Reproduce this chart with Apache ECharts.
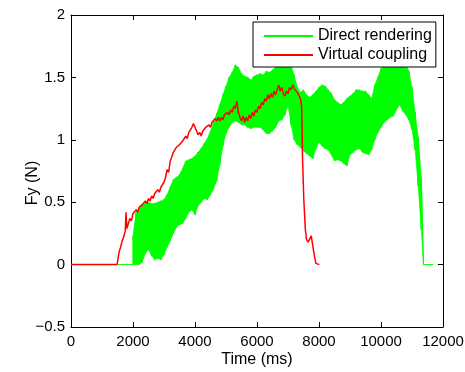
<!DOCTYPE html>
<html>
<head>
<meta charset="utf-8">
<script src="https://cdn.jsdelivr.net/npm/echarts@6/dist/echarts.min.js"></script>
<style>
  html, body { margin: 0; padding: 0; background: #fff; }
  #chart { width: 465px; height: 372px; }
</style>
</head>
<body>
<div id="chart"></div>
<script>
// Axis ticks
const xTicks = [0, 2000, 4000, 6000, 8000, 10000, 12000];
const yTicks = [-0.5, 0, 0.5, 1, 1.5, 2];

// Direct rendering: the force oscillates quickly, so it is stored as
// the low and high extremes of each 100 ms window.
const greenTime = [2000, 2100, 2200, 2300, 2400, 2500, 2600, 2700, 2800, 2900,
  3000, 3100, 3200, 3300, 3400, 3500, 3600, 3700, 3800, 3900,
  4000, 4100, 4200, 4300, 4400, 4500, 4600, 4700, 4800, 4900,
  5000, 5100, 5200, 5300, 5400, 5500, 5600, 5700, 5800, 5900,
  6000, 6100, 6200, 6300, 6400, 6500, 6600, 6700, 6800, 6900,
  7000, 7100, 7200, 7300, 7400, 7500, 7600, 7700, 7800, 7900,
  8000, 8100, 8200, 8300, 8400, 8500, 8600, 8700, 8800, 8900,
  9000, 9100, 9200, 9300, 9400, 9500, 9600, 9700, 9800, 9900,
  10000, 10100, 10200, 10300, 10400, 10500, 10600, 10700, 10800, 10900,
  11000, 11100, 11200, 11300, 11370];
const greenHigh = [0.23, 0.42, 0.45, 0.48, 0.49, 0.50, 0.49, 0.49, 0.50, 0.51,
  0.52, 0.56, 0.62, 0.68, 0.70, 0.72, 0.77, 0.83, 0.84, 0.85,
  0.87, 0.90, 0.93, 0.97, 1.01, 1.07, 1.14, 1.21, 1.28, 1.36,
  1.43, 1.50, 1.54, 1.60, 1.58, 1.53, 1.51, 1.50, 1.48, 1.51,
  1.52, 1.53, 1.52, 1.55, 1.54, 1.56, 1.58, 1.59, 1.61, 1.62,
  1.61, 1.60, 1.52, 1.42, 1.38, 1.40, 1.36, 1.34, 1.36, 1.39,
  1.42, 1.44, 1.43, 1.40, 1.37, 1.32, 1.30, 1.28, 1.30, 1.33,
  1.35, 1.37, 1.40, 1.40, 1.39, 1.39, 1.36, 1.33, 1.44, 1.50,
  1.57, 1.60, 1.62, 1.63, 1.64, 1.64, 1.64, 1.63, 1.61, 1.55,
  1.42, 1.22, 1.02, 0.70, 0];
const greenLow = [0, 0, 0, 0.02, 0.09, 0.12, 0.07, 0.04, 0.05, 0.04,
  0.08, 0.14, 0.19, 0.25, 0.30, 0.32, 0.33, 0.37, 0.42, 0.44,
  0.40, 0.47, 0.50, 0.53, 0.52, 0.56, 0.61, 0.67, 0.80, 0.95,
  1.05, 1.10, 1.14, 1.15, 1.14, 1.12, 1.12, 1.10, 1.09, 1.10,
  1.10, 1.10, 1.08, 1.05, 1.05, 1.07, 1.10, 1.15, 1.16, 1.20,
  1.28, 1.12, 1.00, 0.96, 0.94, 0.91, 0.89, 0.87, 0.85, 0.93,
  0.98, 0.95, 0.93, 0.92, 0.88, 0.83, 0.84, 0.83, 0.81, 0.79,
  0.88, 0.90, 0.92, 0.93, 0.90, 0.89, 0.88, 0.92, 1.00, 1.06,
  1.10, 1.14, 1.16, 1.18, 1.19, 1.24, 1.28, 1.23, 1.20, 1.16,
  1.08, 0.92, 0.63, 0.28, 0];
// Resting samples before and after contact
const greenRestStart = [[0, 0], [2000, 0]];
const greenRestEnd = [[11370, 0], [11690, 0]];

// Virtual coupling
const redTime = [0, 1480, 1500, 1550, 1600, 1650, 1700, 1750, 1775, 1800, 1850, 1900, 1950,
  2000, 2050, 2100, 2150, 2200, 2250, 2300, 2350, 2400, 2450, 2500, 2550, 2600, 2650,
  2700, 2750, 2800, 2850, 2900, 2950, 3000, 3050, 3100, 3150, 3200, 3250, 3300, 3350,
  3400, 3450, 3500, 3550, 3600, 3650, 3700, 3750, 3800, 3850, 3900, 3950, 4000, 4050,
  4100, 4150, 4200, 4250, 4300, 4350, 4400, 4450, 4500, 4550, 4600, 4650, 4700, 4750,
  4800, 4850, 4900, 4950, 5000, 5050, 5100, 5150, 5200, 5250, 5300, 5350, 5400, 5450,
  5500, 5550, 5600, 5650, 5700, 5750, 5800, 5850, 5900, 5950, 6000, 6050, 6100, 6150,
  6200, 6250, 6300, 6350, 6400, 6450, 6500, 6550, 6600, 6650, 6700, 6750, 6800, 6850,
  6900, 6950, 7000, 7050, 7100, 7150, 7200, 7250, 7300, 7350, 7400, 7440, 7470, 7510,
  7560, 7600, 7650, 7700, 7750, 7800, 7850, 7900, 7950, 8010];
const redForce = [0, 0, 0.02, 0.10, 0.14, 0.19, 0.22, 0.27, 0.42, 0.29, 0.33, 0.37, 0.35,
  0.41, 0.40, 0.44, 0.42, 0.46, 0.45, 0.48, 0.47, 0.51, 0.49, 0.53, 0.51, 0.55, 0.53,
  0.57, 0.56, 0.60, 0.58, 0.62, 0.61, 0.66, 0.70, 0.76, 0.74, 0.83, 0.86, 0.90, 0.89,
  0.94, 0.93, 0.96, 0.95, 0.99, 0.98, 1.03, 1.01, 1.06, 1.05, 1.10, 1.13, 1.10, 1.07,
  1.04, 1.06, 1.03, 1.07, 1.06, 1.10, 1.09, 1.12, 1.10, 1.14, 1.13, 1.17, 1.15, 1.18,
  1.15, 1.18, 1.16, 1.20, 1.19, 1.22, 1.20, 1.24, 1.22, 1.27, 1.25, 1.31, 1.22, 1.18,
  1.15, 1.19, 1.14, 1.18, 1.15, 1.20, 1.17, 1.22, 1.19, 1.24, 1.22, 1.27, 1.25, 1.30,
  1.28, 1.33, 1.31, 1.36, 1.33, 1.37, 1.34, 1.39, 1.36, 1.40, 1.44, 1.39, 1.42, 1.37,
  1.35, 1.39, 1.37, 1.42, 1.40, 1.44, 1.41, 1.42, 1.38, 1.37, 1.33, 1.27, 0.84, 0.52,
  0.28, 0.20, 0.18, 0.19, 0.23, 0.15, 0.07, 0.01, 0, 0];

// Oscillating trace: each window contributes its low then high sample.
const greenData = greenRestStart.slice();
greenTime.forEach((t, i) => {
  greenData.push([t, greenLow[i]]);
  greenData.push([t, greenHigh[i]]);
});
greenRestEnd.forEach(p => greenData.push(p));

// Band between the window extremes: [time, low, high]
const bandData = greenTime.map((t, i) => [t, greenLow[i], greenHigh[i]]);

const redData = redTime.map((t, i) => [t, redForce[i]]);

const FONT = '"Liberation Sans", Arial, Helvetica, sans-serif';
const fmtMinus = v => String(v).replace('-', '\u2212');

const chart = echarts.init(document.getElementById('chart'), null, { renderer: 'canvas' });

const axisLine = { show: true, onZero: false, lineStyle: { color: '#000', width: 1 } };
const axisTick = { show: true, inside: true, length: 5, lineStyle: { color: '#000', width: 1 } };

// Fills the strip between window i and window i+1.
function renderBand(params, api) {
  const i = params.dataIndexInside;
  if (i >= params.dataInsideLength - 1) return null;
  const p1 = api.coord([api.value(0, i), api.value(1, i)]);
  const p2 = api.coord([api.value(0, i), api.value(2, i)]);
  const p3 = api.coord([api.value(0, i + 1), api.value(2, i + 1)]);
  const p4 = api.coord([api.value(0, i + 1), api.value(1, i + 1)]);
  return {
    type: 'polygon',
    shape: { points: [p1, p2, p3, p4] },
    style: { fill: '#00ff00', stroke: '#00ff00', lineWidth: 0.6 },
    silent: true
  };
}

chart.setOption({
  animation: false,
  backgroundColor: '#fff',
  grid: { left: 71, right: 22, top: 15, bottom: 45, containLabel: false, outerBoundsMode: 'none' },
  legend: {
    orient: 'vertical',
    left: 253, top: 22,
    padding: [6, 4, 4, 10],
    itemWidth: 49, itemHeight: 16, itemGap: 3,
    borderColor: '#000', borderWidth: 1,
    backgroundColor: '#fff',
    itemStyle: { opacity: 0 },
    textStyle: { fontFamily: FONT, fontSize: 16, color: '#000', lineHeight: 16 },
    data: ['Direct rendering', 'Virtual coupling']
  },
  xAxis: [{
    type: 'value', position: 'bottom',
    min: xTicks[0], max: xTicks[xTicks.length - 1], interval: 2000,
    axisLine, axisTick,
    splitLine: { show: false },
    axisLabel: { margin: 7, fontFamily: FONT, fontSize: 15, color: '#000', formatter: fmtMinus },
    name: 'Time (ms)', nameLocation: 'middle', nameGap: 25, nameMoveOverlap: false,
    nameTextStyle: { fontFamily: FONT, fontSize: 16, color: '#000' }
  }, {
    type: 'value', position: 'top',
    min: xTicks[0], max: xTicks[xTicks.length - 1], interval: 2000,
    axisLine, axisTick,
    splitLine: { show: false },
    axisLabel: { show: false }
  }],
  yAxis: [{
    type: 'value', position: 'left',
    min: yTicks[0], max: yTicks[yTicks.length - 1], interval: 0.5,
    axisLine, axisTick,
    splitLine: { show: false },
    axisLabel: { margin: 6, fontFamily: FONT, fontSize: 15, color: '#000', formatter: fmtMinus },
    name: 'Fy (N)', nameLocation: 'middle', nameGap: 30, nameRotate: 90, nameMoveOverlap: false,
    nameTextStyle: { fontFamily: FONT, fontSize: 16, color: '#000', padding: [0, 24, 0, 0] }
  }, {
    type: 'value', position: 'right',
    min: yTicks[0], max: yTicks[yTicks.length - 1], interval: 0.5,
    axisLine, axisTick,
    splitLine: { show: false },
    axisLabel: { show: false }
  }],
  series: [{
    name: 'band',
    type: 'custom',
    renderItem: renderBand,
    data: bandData,
    encode: { x: 0, y: [1, 2] },
    silent: true,
    z: 1
  }, {
    name: 'Direct rendering',
    type: 'line',
    data: greenData,
    symbol: 'none',
    sampling: null,
    lineStyle: { color: '#00ff00', width: 1 },
    itemStyle: { color: '#00ff00' },
    z: 2
  }, {
    name: 'Virtual coupling',
    type: 'line',
    data: redData,
    symbol: 'none',
    lineStyle: { color: '#ff0000', width: 1.5 },
    itemStyle: { color: '#ff0000' },
    z: 3
  }]
});
</script>
</body>
</html>
